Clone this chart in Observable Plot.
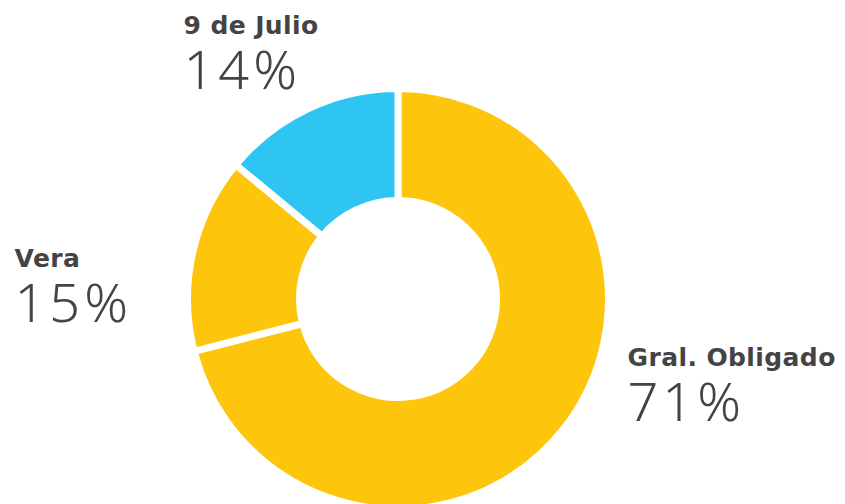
<!DOCTYPE html>
<html>
<head>
<meta charset="utf-8">
<script src="https://cdn.jsdelivr.net/npm/d3@7"></script>
<script src="https://cdn.jsdelivr.net/npm/@observablehq/plot@0.6"></script>
<style>
  html, body { margin: 0; padding: 0; background: #fff; }
  #chart svg { display: block; }
</style>
</head>
<body>
<div id="chart"></div>
<script>
const names = ["Gral. Obligado", "Vera", "9 de Julio"];
const values = [71, 15, 14];
const colors = ["#FDC60C", "#FDC60C", "#2EC5F3"];
const pctLabels = ["71%", "15%", "14%"];

const W = 845, H = 504;
const cx = 398, cy = 299, rOuter = 210.5, rInner = 98.5;
// label anchors (layout)
const labelPos = [
  {x: 627, y: 365},
  {x: 14, y: 266},
  {x: 183, y: 33}
];

const slices = d3.pie().sort(null).value(d => d.value)(
  names.map((n, i) => ({name: n, value: values[i], color: colors[i]}))
);

const labelRows = names.map((n, i) => ({name: n, pct: pctLabels[i], x: labelPos[i].x, y: labelPos[i].y}));

function donutMark(index, scales, vals, dims) {
  const g = d3.create("svg:g");
  const px = scales.x(cx), py = scales.y(cy);
  const rO = Math.abs(scales.x(cx + rOuter) - px);
  const rI = Math.abs(scales.x(cx + rInner) - px);
  const arc = d3.arc().innerRadius(rI).outerRadius(rO);
  g.attr("transform", `translate(${px},${py})`)
    .selectAll("path")
    .data(slices)
    .join("path")
    .attr("d", arc)
    .attr("fill", d => d.data.color)
    .attr("stroke", "#fff")
    .attr("stroke-width", 7)
    .attr("stroke-linejoin", "miter");
  return g.node();
}

const chart = Plot.plot({
  width: W,
  height: H,
  margin: 0,
  x: {domain: [0, W], range: [0, W], axis: null},
  y: {domain: [0, H], range: [0, H], axis: null},
  style: {fontFamily: "'DejaVu Sans', sans-serif", background: "#fff"},
  marks: [
    donutMark,
    Plot.text(labelRows, {
      x: "x", y: "y", text: "name",
      textAnchor: "start", lineAnchor: "bottom",
      fontSize: 25, fontWeight: "bold", fill: "#444"
    }),
    Plot.text(labelRows, {
      x: "x", y: d => d.y + 55, text: "pct",
      textAnchor: "start", lineAnchor: "bottom",
      fontFamily: "'Noto Sans', sans-serif",
      fontSize: 54, fontWeight: 300, fill: "#444"
    })
  ]
});
const textGroups = d3.select(chart).selectAll('g[aria-label="text"]').nodes();
if (textGroups[0]) textGroups[0].setAttribute("letter-spacing", "0.4");
if (textGroups[1]) textGroups[1].setAttribute("letter-spacing", "4");
document.getElementById("chart").appendChild(chart);
</script>
</body>
</html>
